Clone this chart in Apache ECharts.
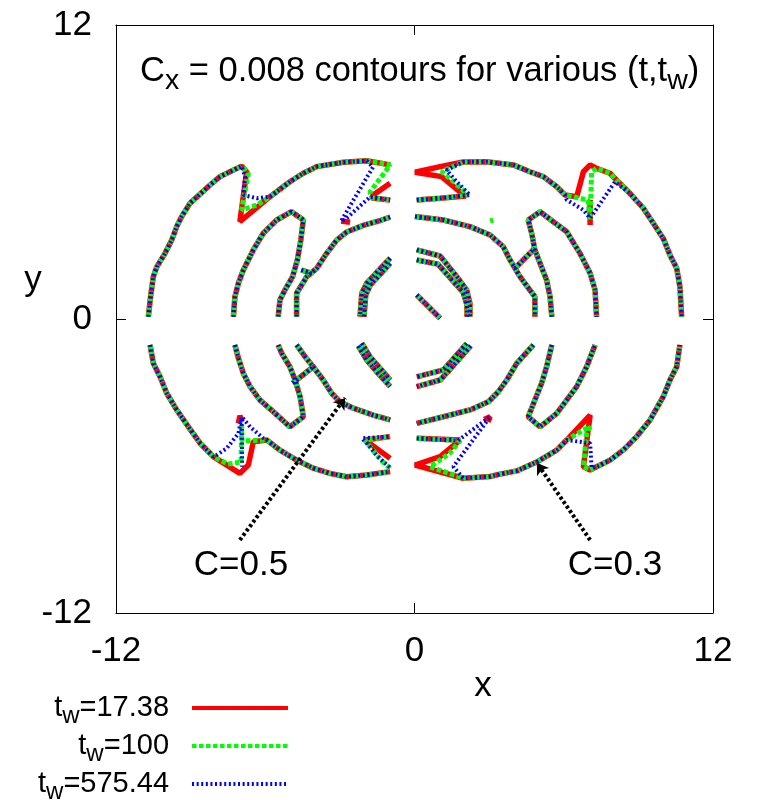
<!DOCTYPE html>
<html>
<head>
<meta charset="utf-8">
<script src="https://cdn.jsdelivr.net/npm/echarts@6/dist/echarts.min.js"></script>
<style>
  html, body { margin: 0; padding: 0; background: #fff; }
  #chart { width: 763px; height: 800px; }
</style>
</head>
<body>
<div id="chart"></div>
<script>
// axis ticks and legend values
const axisTicks = [-12, 0, 12];
const twValues = ['17.38', '100', '575.44'];

// ---- upper left quadrant ----
const ulOuter = [[-10.70,0.09],[-10.61,0.91],[-10.50,1.73],[-10.36,2.13],[-10.03,2.68],[-9.76,3.22],[-9.56,3.77],[-9.36,4.18],[-9.03,4.72],[-8.22,5.47],[-7.82,5.81],[-7.42,6.01],[-6.95,6.24]];
const ulTop = [[-5.81,4.99],[-5.01,5.60],[-4.47,5.95],[-3.93,6.22],[-2.86,6.40],[-1.92,6.46]];
const ulZRed = [[-6.75,6.01],[-7.02,3.97]];
const ulZGreen = [[-6.68,5.95],[-6.95,4.45],[-6.34,4.65]];
const ulZBlue = [[-6.81,5.81],[-6.88,5.06],[-6.34,4.93]];
const ulEndRed = [[-0.98,6.29]];
const ulNotchRed = [[-0.98,5.54],[-1.66,5.06],[-1.72,4.94],[-0.98,4.86]];
const ulTipRed = [[-2.95,4.00],[-2.59,3.95]];
const ulEndGreen = [[-0.98,6.29],[-1.07,6.16],[-1.79,5.18],[-1.72,4.94],[-0.98,4.86]];
const ulEndBlue = [[-1.67,6.20],[-2.95,4.00],[-2.80,4.05],[-1.79,4.98],[-0.98,4.86]];
const ulD = [[-0.98,4.16],[-1.32,4.04],[-2.06,3.82],[-2.73,3.55],[-3.13,3.22],[-3.53,2.68],[-3.93,2.07],[-4.33,1.73],[-4.74,1.05],[-4.74,0.09]];
const ulE = [[-7.28,0.09],[-7.22,0.91],[-7.08,1.46],[-6.88,2.00],[-6.48,2.82],[-6.08,3.50],[-5.54,4.04],[-4.94,4.38],[-4.47,4.04],[-4.57,3.22],[-4.71,2.41],[-4.90,1.73],[-5.21,1.18],[-5.41,0.78],[-5.48,0.09]];
const ulLink = [[-4.55,2.00],[-4.10,1.85]];
const ulBandA = [[-0.98,2.48],[-1.92,1.46],[-2.12,1.05],[-2.19,0.09]];
const ulBandB = [[-0.98,2.27],[-1.78,1.38],[-1.96,0.98],[-2.03,0.09]];

// ---- upper right quadrant ----
const urNotchRed = [[0.09,4.86],[1.03,4.93],[2.07,5.02],[1.90,5.13],[1.09,5.81],[0.02,5.99],[1.03,6.22]];
const urNotchGreen = [[0.09,4.86],[1.03,4.93],[2.16,5.06],[1.50,5.67],[1.09,6.01]];
const urNotchBlue = [[0.09,4.86],[1.03,4.93],[2.23,5.06],[1.70,5.60],[1.29,6.08]];
const urTop = [[1.96,6.41],[2.90,6.42],[3.97,6.29],[4.64,6.01],[5.18,5.81],[5.72,5.40],[6.05,5.06]];
const urZRed = [[6.52,4.99],[6.79,6.01],[7.06,6.29],[7.32,6.15]];
const urSpikeRed = [[7.06,4.86],[7.06,3.84]];
const urZGreen = [[6.38,4.99],[6.97,4.86],[7.06,4.04],[7.12,6.01],[7.32,6.15]];
const urZBlue = [[6.12,4.86],[6.79,4.45],[7.06,4.11],[8.06,5.60]];
const urRight = [[7.86,5.95],[8.19,5.60],[8.66,5.13],[9.20,4.52],[9.60,3.91],[10.00,3.29],[10.27,2.61],[10.54,2.07],[10.67,1.32],[10.74,0.09]];
const urI = [[0.02,4.18],[1.16,4.04],[2.23,3.77],[3.04,3.43],[3.57,2.95],[3.84,2.41],[4.24,1.73],[4.64,1.18],[4.84,0.91],[4.84,0.09]];
const urLink = [[4.04,2.07],[4.84,2.89]];
const urV = [[5.52,0.09],[5.45,0.91],[5.31,1.59],[5.05,2.27],[4.84,2.82],[4.71,3.50],[4.57,4.04],[5.05,4.38],[5.58,3.97],[6.12,3.56],[6.65,2.68],[7.06,1.87],[7.26,1.18],[7.32,0.09]];
const urBandA = [[0.09,2.82],[1.03,2.57],[1.70,1.73],[2.10,1.18],[2.23,0.64],[2.23,0.09]];
const urBandB = [[0.09,2.41],[0.94,2.24],[1.51,1.59],[1.95,1.10],[2.11,0.57],[2.11,0.09]];
const urDiag = [[0.09,0.98],[1.03,0.03]];
const urSpeckGreen = [[3.04,4.00],[3.17,4.04]];

// ---- lower left quadrant ----
const llOuter = [[-10.63,-1.06],[-10.50,-1.81],[-10.23,-2.36],[-9.96,-3.03],[-9.56,-3.71],[-9.09,-4.40],[-8.62,-5.07],[-8.22,-5.48],[-8.09,-5.62]];
const llZRed = [[-7.02,-6.30],[-6.68,-5.96],[-6.48,-5.01]];
const llZGreen = [[-7.50,-5.92],[-6.97,-5.84],[-6.95,-4.33],[-6.93,-4.98]];
const llZBlue = [[-7.95,-5.55],[-7.55,-5.28],[-7.08,-4.67],[-6.95,-3.99],[-6.61,-4.40],[-6.08,-4.87]];
const llBottom = [[-5.94,-4.94],[-5.41,-5.35],[-4.74,-5.76],[-4.07,-6.09],[-3.40,-6.30],[-2.73,-6.44],[-1.92,-6.37],[-0.98,-6.23]];
const llNotchRed = [[-0.98,-5.69],[-1.99,-4.94],[-0.98,-4.80]];
const llNotchGreen = [[-0.98,-6.10],[-1.30,-5.80],[-1.72,-5.30],[-2.00,-4.94],[-0.98,-4.80]];
const llNotchBlue = [[-1.00,-6.05],[-1.50,-5.60],[-1.80,-5.20],[-2.11,-4.87],[-0.98,-4.80]];
const llTipRed = [[-7.08,-4.26],[-7.02,-3.95],[-6.93,-4.19]];
const llSpikeBlue = [[-6.95,-4.10],[-6.93,-6.03]];
const llD = [[-4.74,-1.06],[-4.40,-1.54],[-4.07,-1.95],[-3.67,-2.49],[-3.33,-3.03],[-3.00,-3.38],[-2.46,-3.64],[-1.66,-3.92],[-0.98,-4.12]];
const llE = [[-7.22,-1.06],[-7.08,-1.60],[-6.88,-2.22],[-6.61,-2.76],[-6.21,-3.31],[-5.68,-3.78],[-5.01,-4.40],[-4.47,-3.99],[-4.60,-3.17],[-4.80,-2.49],[-5.01,-1.95],[-5.34,-1.40],[-5.48,-1.06]];
const llLink = [[-4.90,-2.62],[-4.07,-1.95]];
const llBandA = [[-2.12,-0.99],[-1.79,-1.54],[-1.32,-2.08],[-0.98,-2.49]];
const llBandB = [[-2.26,-1.10],[-1.93,-1.66],[-1.46,-2.22],[-0.98,-2.75]];

// ---- lower right quadrant ----
const lrNotchRed = [[0.09,-4.87],[1.83,-4.94],[1.03,-5.62],[0.02,-5.96]];
const lrNotchGreen = [[0.09,-4.87],[1.83,-4.96],[1.43,-5.47],[0.62,-6.03]];
const lrNotchBlue = [[0.09,-4.87],[1.75,-4.96],[3.04,-3.99],[1.56,-6.03]];
const lrTipRed = [[2.80,-4.10],[3.04,-3.99],[2.95,-4.20]];
const lrBottom = [[1.96,-6.50],[3.04,-6.43],[3.44,-6.33],[4.11,-6.20],[4.91,-5.84],[5.72,-5.35],[6.12,-4.94]];
const lrZRed = [[7.06,-3.92],[6.79,-6.03]];
const lrZGreen = [[6.79,-4.53],[7.06,-4.40],[6.92,-4.67],[6.79,-6.03]];
const lrZBlue = [[6.65,-5.01],[7.06,-5.07],[7.12,-6.09]];
const lrRight = [[7.06,-6.16],[7.32,-6.03],[7.86,-5.76],[8.39,-5.35],[8.93,-4.80],[9.47,-4.12],[10.00,-3.17],[10.27,-2.49],[10.54,-1.95],[10.67,-1.06]];
const lrI = [[4.78,-1.06],[4.11,-1.81],[3.71,-2.49],[3.37,-2.97],[2.97,-3.38],[2.23,-3.71],[1.16,-3.99],[0.09,-4.26]];
const lrV = [[5.52,-1.06],[5.31,-1.95],[5.11,-2.62],[4.84,-3.31],[4.57,-3.99],[5.05,-4.40],[5.72,-3.85],[6.52,-2.76],[6.92,-1.95],[7.26,-1.06]];
const lrBandA = [[2.10,-1.00],[1.16,-2.08],[0.09,-2.36]];
const lrBandB = [[2.26,-1.10],[1.30,-2.20],[1.03,-2.49],[0.09,-2.76]];

// ---- annotation arrows ----
const arrowC05 = [[-7.02,-9.02],[-2.79,-3.22]];
const arrowC03 = [[7.06,-9.02],[4.92,-5.88]];

const shared = [ulD, ulE, ulLink, ulBandA, ulBandB, urI, urLink, urV, urBandA, urBandB, urDiag,
                llD, llE, llLink, llBandA, llBandB, lrI, lrV, lrBandA, lrBandB];

const redPaths = [
  ulOuter.concat(ulZRed, ulTop, ulEndRed), ulNotchRed, ulTipRed,
  urNotchRed.concat(urTop, urZRed, urRight), urSpikeRed,
  llOuter.concat(llZRed, llBottom), llNotchRed, llTipRed,
  lrNotchRed.concat(lrBottom, lrZRed, lrRight), lrTipRed
].concat(shared);
const greenPaths = [
  ulOuter.concat(ulZGreen, ulTop, ulEndGreen),
  urNotchGreen.concat(urTop, urZGreen, urRight), urSpeckGreen,
  llOuter.concat(llZGreen, llBottom), llNotchGreen,
  lrNotchGreen.concat(lrBottom, lrZGreen, lrRight)
].concat(shared);
const bluePaths = [
  ulOuter.concat(ulZBlue, ulTop, ulEndBlue),
  urNotchBlue.concat(urTop, urZBlue, urRight.slice(2)),
  llOuter.concat(llZBlue, llBottom), llNotchBlue, llSpikeBlue,
  lrNotchBlue.concat(lrBottom, lrZBlue, lrRight.slice(1))
].concat(shared);

const names = twValues.map(v => 't_w=' + v);
const sets = [
  { name: names[0], paths: redPaths,   z: 2, style: { color: '#ff0000', width: 5.5, type: 'solid' } },
  { name: names[1], paths: greenPaths, z: 3, style: { color: '#00ff00', width: 5, type: [4.5, 2.5] } },
  { name: names[2], paths: bluePaths,  z: 4, style: { color: '#0000ff', width: 4, type: [2, 2.6] } }
];

const series = [];
sets.forEach(s => {
  s.paths.forEach(p => {
    series.push({
      type: 'line', name: s.name, data: p, z: s.z,
      symbol: 'none', silent: true, animation: false,
      itemStyle: { color: s.style.color },
      lineStyle: { color: s.style.color, width: s.style.width, type: s.style.type, cap: 'butt' }
    });
  });
});
series.push({
  type: 'lines', coordinateSystem: 'cartesian2d', z: 6, silent: true, animation: false,
  symbol: ['none', 'arrow'], symbolSize: 11,
  lineStyle: { color: '#000', width: 4, type: [3, 2.5], opacity: 1, curveness: 0 },
  data: [{ coords: arrowC05 }, { coords: arrowC03 }]
});

const font = 'Liberation Sans';
const axisBase = {
  type: 'value', min: -12, max: 12, interval: 12,
  axisLine: { show: true, onZero: false, lineStyle: { color: '#000', width: 1 } },
  axisTick: { show: true, inside: true, length: 10, lineStyle: { color: '#000', width: 1 } },
  splitLine: { show: false }
};
const labelStyle = { color: '#000', fontSize: 35, fontFamily: font, lineHeight: 35 };

const chart = echarts.init(document.getElementById('chart'), null, { renderer: 'canvas' });
chart.setOption({
  backgroundColor: '#fff',
  animation: false,
  title: {
    text: '{m|C}{s|x}{m| = 0.008 contours for various (t,t}{s|w}{m|)}',
    left: 140, top: 51, padding: 0,
    textStyle: {
      fontWeight: 'normal',
      rich: {
        m: { fontSize: 34.5, lineHeight: 40, fontFamily: font, fontWeight: 'normal', color: '#000' },
        s: { fontSize: 28.5, lineHeight: 40, fontFamily: font, fontWeight: 'normal', color: '#000', padding: [20, 0, 0, 0] }
      }
    }
  },
  legend: {
    data: names, orient: 'vertical', align: 'right',
    left: 38, top: 688, height: 160, padding: 0, itemGap: -2,
    itemWidth: 96, itemHeight: 14, selectedMode: false,
    lineStyle: { width: 4 },
    itemStyle: { opacity: 0 },
    formatter: n => '{m|t}{s|w}{e|=' + n.split('=')[1] + '}',
    textStyle: {
      rich: {
        m: { fontSize: 29, lineHeight: 30, fontFamily: font, color: '#000' },
        s: { fontSize: 24, lineHeight: 30, fontFamily: font, color: '#000', padding: [16, 0, 0, 0] },
        e: { fontSize: 29, lineHeight: 30, fontFamily: font, color: '#000', padding: [0, 18, 0, 0] }
      }
    }
  },
  grid: { left: 116, right: 50, top: 25, bottom: 187, show: false },
  xAxis: [
    Object.assign({}, axisBase, { position: 'bottom',
      axisLabel: Object.assign({ margin: 21, formatter: v => axisTicks.includes(v) ? String(v) : '' }, labelStyle) }),
    Object.assign({}, axisBase, { position: 'top', axisLabel: { show: false } })
  ],
  yAxis: [
    Object.assign({}, axisBase, { position: 'left',
      axisLabel: Object.assign({ margin: 24, formatter: v => axisTicks.includes(v) ? String(v) : '' }, labelStyle) }),
    Object.assign({}, axisBase, { position: 'right', axisLabel: { show: false } })
  ],
  graphic: [
    { type: 'text', x: 483, y: 686, style: { text: 'x', fontSize: 35, fontFamily: font, fill: '#000', align: 'center', verticalAlign: 'middle' } },
    { type: 'text', x: 33, y: 280, style: { text: 'y', fontSize: 35, fontFamily: font, fill: '#000', align: 'center', verticalAlign: 'middle' } },
    { type: 'text', x: 241, y: 565, style: { text: 'C=0.5', fontSize: 35, fontFamily: font, fill: '#000', align: 'center', verticalAlign: 'middle' } },
    { type: 'text', x: 615, y: 565, style: { text: 'C=0.3', fontSize: 35, fontFamily: font, fill: '#000', align: 'center', verticalAlign: 'middle' } }
  ],
  series: series
});
</script>
</body>
</html>
